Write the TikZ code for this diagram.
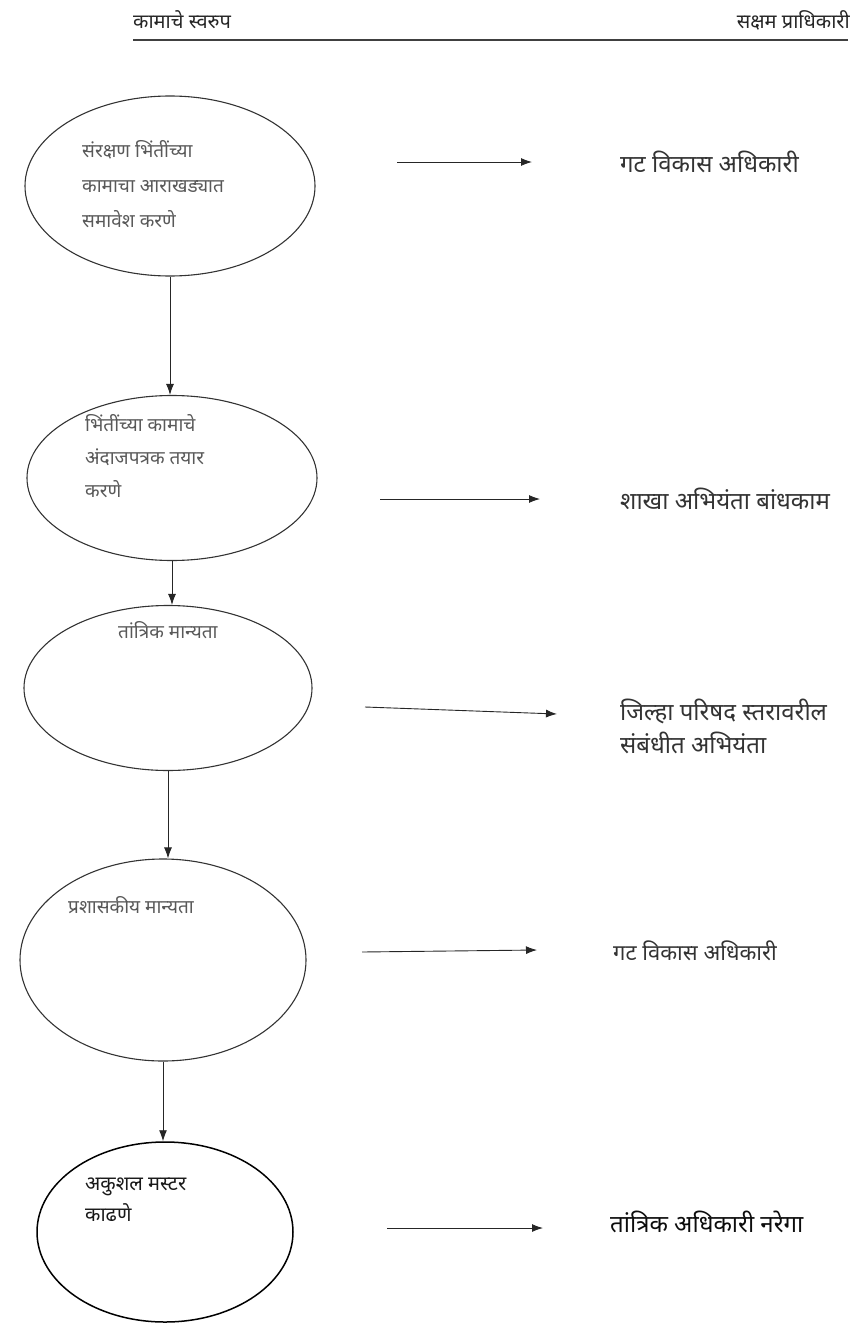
\documentclass[tikz,border=0pt]{standalone}
\usepackage{fontspec}
\newfontfamily\devfont[Script=Devanagari]{Noto Sans}
\usetikzlibrary{arrows.meta,shapes.geometric,calc}

\begin{document}
\begin{tikzpicture}[x=1pt,y=-1pt,>={Latex[length=11pt,width=8pt]},
  stage/.style={draw=black!80,line width=1.1pt,ellipse,inner sep=0pt},
  stagetext/.style={font=\devfont\fontsize{19}{35}\selectfont,text=black!65,align=left,anchor=west,inner sep=0pt},
  who/.style={font=\devfont\fontsize{24}{33}\selectfont,text=black!80,align=left,anchor=west,inner sep=0pt},
  head/.style={font=\devfont\fontsize{20}{22}\selectfont,text=black!85,inner sep=0pt},
  flow/.style={->,line width=0.9pt,black!85}]

\useasboundingbox (0,0) rectangle (863,1330);

% Heading and the rule beneath it
\node [head,anchor=west] (hleft) at (133,20) {कामाचे स्वरुप};
\node [head,anchor=east] (hright) at (850,20) {सक्षम प्राधिकारी};
\coordinate (rulel) at (133,40);
\coordinate (ruler) at (848,40);
\draw [line width=1.2pt,black!75] (rulel) -- (ruler);

% The five stages of the work
\node [stage,minimum width=290pt,minimum height=180pt] (e1) at (170,186) {};
\node [stage,minimum width=290pt,minimum height=165pt] (e2) at (172,478) {};
\node [stage,minimum width=288pt,minimum height=165pt] (e3) at (168,688) {};
\node [stage,minimum width=286pt,minimum height=202pt] (e4) at (163,960) {};
\node [stage,line width=1.5pt,draw=black,minimum width=256pt,minimum height=180pt] (e5) at (165,1232) {};

% Texts inside the stages
\node [stagetext] (t1) at (82,184) {संरक्षण भिंतींच्या\\कामाचा आराखड्यात\\समावेश करणे};
\node [stagetext,font=\devfont\fontsize{19}{33}\selectfont] (t2) at (85,456) {भिंतींच्या कामाचे\\अंदाजपत्रक तयार\\करणे};
\node [stagetext] (t3) at (118,630) {तांत्रिक मान्यता};
\node [stagetext] (t4) at (68,905) {प्रशासकीय मान्यता};
\node [stagetext,text=black!90,font=\devfont\fontsize{20}{31}\selectfont] (t5) at (85,1200) {अकुशल मस्टर\\काढणे};

% Arrows from one stage to the next
\draw [flow] (e1.south) -- (e1.south |- e2.north);
\draw [flow] (e2.south) -- (e2.south |- e3.north);
\draw [flow] (e3.south) -- (e3.south |- e4.north);
\draw [flow] (e4.south) -- (e4.south |- e5.north);

% Competent authority for each stage
\node [who] (r1) at (620,162) {गट विकास अधिकारी};
\node [who] (r2) at (620,499) {शाखा अभियंता बांधकाम};
\node [who] (r3) at (620,726) {जिल्हा परिषद स्तरावरील\\संबंधीत अभियंता};
\node [who,font=\devfont\fontsize{22}{30}\selectfont] (r4) at (613,951) {गट विकास अधिकारी};
\node [who,text=black!95] (r5) at (610,1222) {तांत्रिक अधिकारी नरेगा};

% Start and end points of the side arrows
\coordinate (s1) at (397,162);  \coordinate (a1) at (532,162);
\coordinate (s2) at (380,499);  \coordinate (a2) at (540,499);
\coordinate (s3) at (365,707);  \coordinate (a3) at (557,714);
\coordinate (s4) at (362,952);  \coordinate (a4) at (537,950);
\coordinate (s5) at (387,1228); \coordinate (a5) at (543,1228);

\foreach \i in {1,...,5} {
    \draw [flow] (s\i) -- (a\i);
}

\end{tikzpicture}
\end{document}
